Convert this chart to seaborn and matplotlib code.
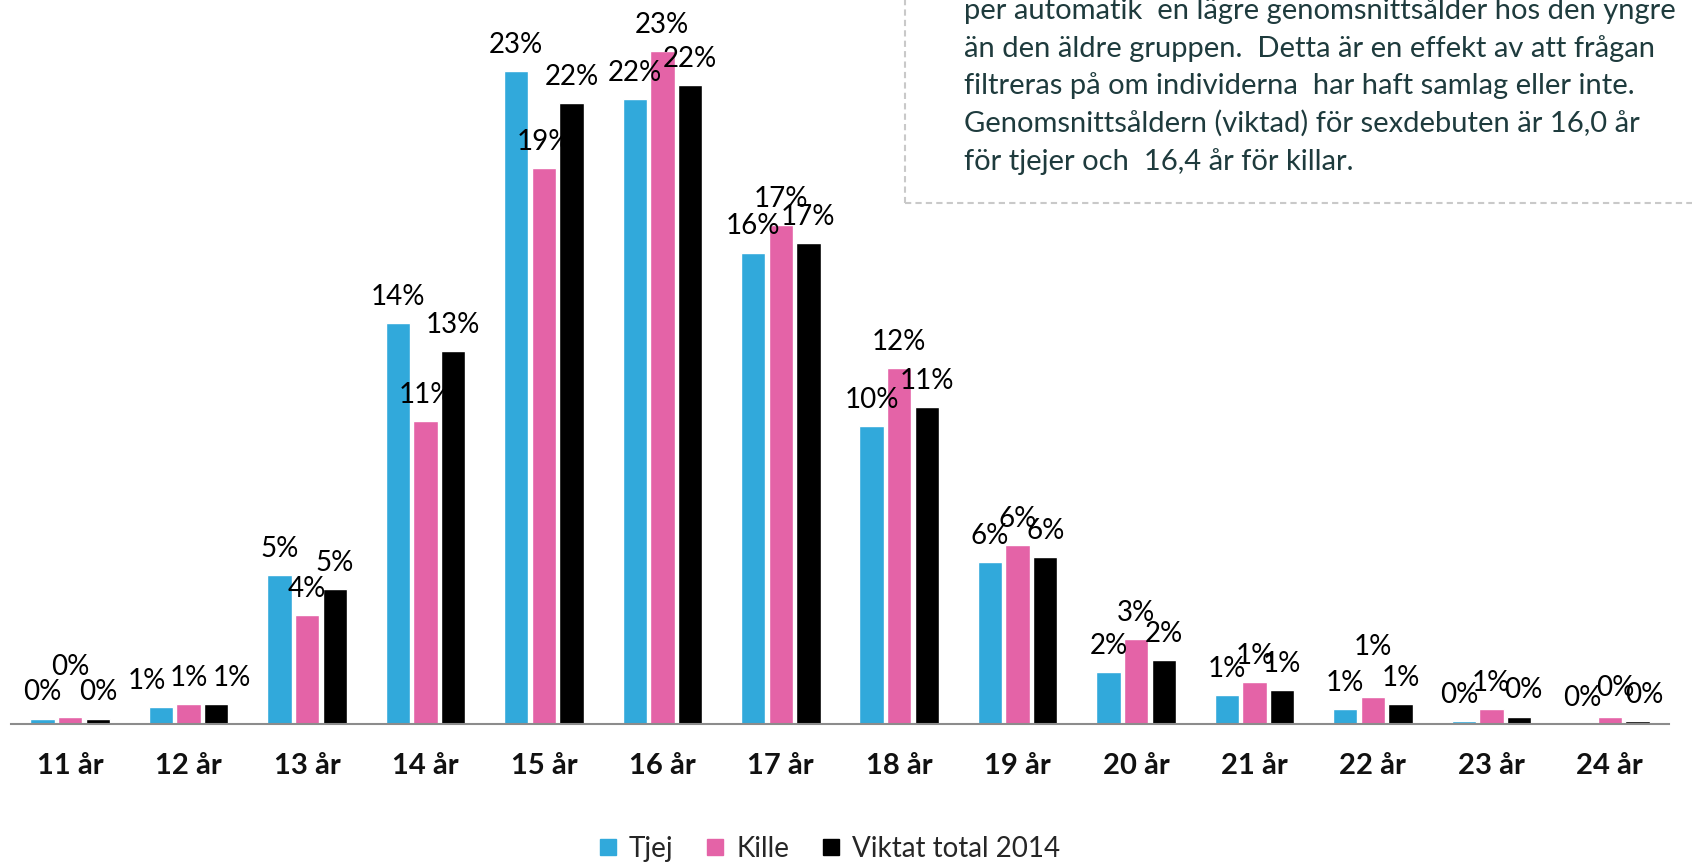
import numpy as np
import pandas as pd
import matplotlib
matplotlib.use("Agg")
import matplotlib.pyplot as plt
import seaborn as sns
from matplotlib.lines import Line2D
from matplotlib.patches import Rectangle

# data (share in percent)
ages = ["11 år", "12 år", "13 år", "14 år", "15 år", "16 år", "17 år",
        "18 år", "19 år", "20 år", "21 år", "22 år", "23 år", "24 år"]
groups = ["Tjej", "Kille", "Viktat total 2014"]
tjej = [0.19, 0.60, 5.19, 13.98, 22.75, 21.78, 16.43, 10.38, 5.64, 1.80, 1.02, 0.53, 0.11, 0.0]
kille = [0.26, 0.68, 3.80, 10.56, 19.36, 23.45, 17.40, 12.41, 6.24, 2.97, 1.45, 0.94, 0.53, 0.26]
total = [0.19, 0.68, 4.70, 13.00, 21.64, 22.26, 16.77, 11.05, 5.83, 2.22, 1.17, 0.68, 0.26, 0.11]
colors = ["#31A9DB", "#E463A7", "#000000"]

note_lines = [
    "per automatik  en lägre genomsnittsålder hos den yngre",
    "än den äldre gruppen.  Detta är en effekt av att frågan",
    "filtreras på om individerna  har haft samlag eller inte.",
    "Genomsnittsåldern (viktad) för sexdebuten är 16,0 år",
    "för tjejer och  16,4 år för killar.",
]

df = pd.DataFrame({
    "alder": ages * 3,
    "grupp": [g for g in groups for _ in ages],
    "andel": tjej + kille + total,
})

sns.set_theme(style="white")
plt.rcParams['font.family'] = ['Lato', 'DejaVu Sans']

fig = plt.figure(figsize=(16.92, 8.63), dpi=100)
ax = fig.add_axes([11 / 1692, 1 - 724 / 863, 1658 / 1692, 724 / 863])

sns.barplot(data=df, x="alder", y="andel", hue="grupp", hue_order=groups,
            palette=colors, width=0.7, gap=0.12, saturation=1,
            errorbar=None, legend=False, ax=ax)

ax.set_xlim(-0.5, len(ages) - 0.5)
ax.set_ylim(0, 25.23)
ax.set_xlabel("")
ax.set_ylabel("")
ax.set_yticks([])
for s in ["top", "left", "right"]:
    ax.spines[s].set_visible(False)
ax.spines["bottom"].set_color("#8C8C8C")
ax.spines["bottom"].set_linewidth(1.5)
ax.tick_params(axis="x", length=0, pad=21, labelsize=21, labelcolor="#111111")
for lab in ax.get_xticklabels():
    lab.set_fontweight("bold")

# value labels above each bar, a few nudged apart like in the original
nudge = {(1, 0): (0, 17), (0, 1): (-10, 0), (2, 1): (11, 0), (1, 11): (0, 17),
         (0, 12): (-3, 0), (2, 12): (3, 0), (1, 13): (4, 2), (2, 13): (5, 0)}
for gi, cont in enumerate(ax.containers):
    for ai, bar in enumerate(cont):
        v = bar.get_height()
        dx, dy = nudge.get((gi, ai), (0, 0))
        ax.annotate(f"{v:.0f}%", (bar.get_x() + bar.get_width() / 2, v),
                    xytext=(dx, 13 + dy), textcoords="offset points",
                    ha="center", va="baseline", fontsize=20, color="#000000")

# legend at the bottom
handles = [Line2D([], [], marker="s", linestyle="", markersize=11.5,
                  markerfacecolor=c, markeredgecolor=c) for c in colors]
fig.legend(handles, groups, loc="center", bbox_to_anchor=(0.49, 1 - 849 / 863),
           ncol=3, frameon=False, fontsize=20, handlelength=0.7,
           handletextpad=0.4, columnspacing=1.15)

# note box in the upper right corner
fig.patches.append(Rectangle((905 / 1692, 1 - 202.7 / 863), 0.6, 0.5,
                             transform=fig.transFigure, fill=False,
                             edgecolor="#C9C9C9", linewidth=1.5,
                             linestyle=(0, (3, 2))))
baselines = [19, 57, 94, 132, 170]
for txt, yb in zip(note_lines, baselines):
    fig.text(964 / 1692, 1 - yb / 863, txt, ha="left", va="baseline",
             fontsize=21, color="#1E3B3D")

fig.savefig("out.png", dpi=100)
